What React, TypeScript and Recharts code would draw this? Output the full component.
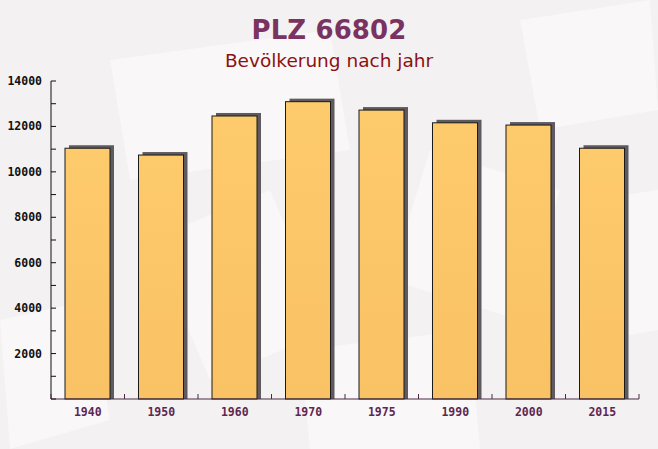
import React from "react";
import { BarChart, Bar, XAxis, YAxis } from "recharts";

const years = ["1940", "1950", "1960", "1970", "1975", "1990", "2000", "2015"];
const population = [11040, 10740, 12460, 13090, 12720, 12160, 12060, 11040];
const yTicks = [0, 1000, 2000, 3000, 4000, 5000, 6000, 7000, 8000, 9000, 10000, 11000, 12000, 13000, 14000];

const title = "PLZ 66802";
const subtitle = "Bevölkerung nach jahr";

const data = years.map((y, i) => ({ year: y, value: population[i] }));

const W = 658;
const H = 449;
const MARGIN = { top: 81, right: 19, bottom: 20, left: 0 };
const Y_W = 51;
const X_H = 30;
const PLOT_W = W - MARGIN.left - MARGIN.right - Y_W;
const BAND = PLOT_W / years.length;
const MONO = "'DejaVu Sans Mono', monospace";

const BarShape = (props: any) => {
  const { x, y, width, height } = props;
  if (height <= 0) return null;
  const dx = 4;
  const dy = 3;
  return (
    <g>
      <rect x={x + dx} y={y - dy} width={width} height={height + dy} fill="#5f5a5f" />
      <rect x={x} y={y} width={width} height={height} fill="url(#barGrad)" stroke="#1a1a1a" strokeWidth={1} />
    </g>
  );
};

const YTick = (props: any) => {
  const { x, y, payload } = props;
  const v = payload.value;
  const showLabel = v !== 0 && v % 2000 === 0;
  return (
    <g>
      <line x1={x} x2={x + 5} y1={y} y2={y} stroke="#111" strokeWidth={1} />
      {showLabel && (
        <text x={x - 9} y={y} dy={4} textAnchor="end" fontFamily={MONO} fontWeight="bold" fontSize={11.5} fill="#111">
          {v}
        </text>
      )}
    </g>
  );
};

const XTick = (props: any) => {
  const { x, y, payload, index } = props;
  const bx = x + BAND / 2;
  return (
    <g>
      <line x1={bx} x2={bx} y1={y} y2={y - 5} stroke="#4a2a42" strokeWidth={1} />
      {index === 0 && <line x1={x - BAND / 2} x2={x - BAND / 2} y1={y} y2={y - 5} stroke="#4a2a42" />}
      <text x={x} y={y + 13} dy={4} textAnchor="middle" fontFamily={MONO} fontWeight="bold" fontSize={11.5} fill="#5e2750">
        {payload.value}
      </text>
    </g>
  );
};

export default function App() {
  return (
    <div style={{ position: "absolute", left: 0, top: 0, width: W, height: H, background: "#f3f1f2", overflow: "hidden" }}>
      <svg width={W} height={H} style={{ position: "absolute", left: 0, top: 0 }}>
        <g fill="#faf8f8" opacity={0.9}>
          <polygon points="110,60 330,30 350,150 130,180" />
          <polygon points="430,150 560,190 520,320 390,280" />
          <polygon points="150,240 270,190 330,330 210,380" />
          <polygon points="520,20 650,0 658,110 540,130" />
          <polygon points="0,320 90,300 110,420 10,449" />
          <polygon points="300,350 470,330 480,449 310,449" />
          <polygon points="590,200 658,190 658,330 600,340" />
        </g>
      </svg>
      <div style={{ position: "absolute", left: 0, top: 15, width: W, textAlign: "center", fontFamily: "'DejaVu Sans', sans-serif", fontWeight: "bold", fontSize: 26, letterSpacing: 0.1, color: "#7a3360" }}>
        {title}
      </div>
      <div style={{ position: "absolute", left: 0, top: 50, width: W, textAlign: "center", fontFamily: "'DejaVu Sans', sans-serif", fontSize: 18.5, color: "#8b1212" }}>
        {subtitle}
      </div>
      <div style={{ position: "absolute", left: 0, top: 0 }}>
        <BarChart width={W} height={H} data={data} margin={MARGIN} barSize={45}>
          <defs>
            <linearGradient id="barGrad" x1="0" y1="0" x2="0" y2="1">
              <stop offset="0%" stopColor="#fdca6c" />
              <stop offset="100%" stopColor="#f9c264" />
            </linearGradient>
          </defs>
          <XAxis
            dataKey="year"
            height={X_H}
            axisLine={{ stroke: "#4a2a42" }}
            tickLine={false}
            tick={<XTick />}
            tickSize={0}
            tickMargin={0}
            interval={0}
          />
          <YAxis
            width={Y_W}
            domain={[0, 14000]}
            ticks={yTicks}
            interval={0}
            axisLine={{ stroke: "#111" }}
            tickLine={false}
            tickSize={0}
            tickMargin={0}
            tick={<YTick />}
          />
          <Bar dataKey="value" shape={<BarShape />} isAnimationActive={false} />
        </BarChart>
      </div>
    </div>
  );
}
